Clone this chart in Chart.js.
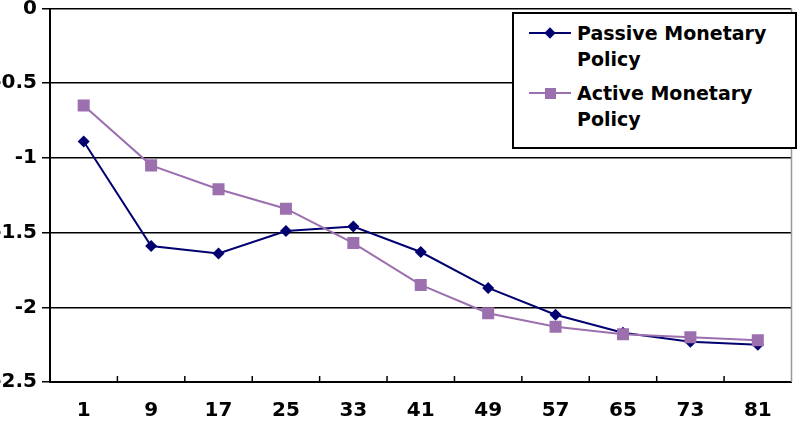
<!DOCTYPE html>
<html>
<head>
<meta charset="utf-8">
<script src="https://cdn.jsdelivr.net/npm/chart.js@4.4.1/dist/chart.umd.min.js"></script>
<style>
  html, body { margin: 0; padding: 0; background: #fff; }
  #wrap { position: relative; width: 800px; height: 434px; overflow: hidden; }
  #leyenda {
    position: absolute; left: 512px; top: 12px; width: 281px; height: 127px;
    border: 2px solid #000; background: #fff;
    font-family: "DejaVu Sans", sans-serif; font-weight: bold; font-size: 19px; color: #000;
    padding-top: 6px;
  }
  .item { position: relative; height: 52px; margin-bottom: 8px; }
  .muestra { position: absolute; left: 15px; top: 12px; width: 42px; height: 2px; }
  .marca { position: absolute; left: 50%; top: 50%; }
  .texto { position: absolute; left: 63px; top: 0; width: 215px; line-height: 26px; }
</style>
</head>
<body>
<div id="wrap">
  <canvas id="grafica" width="800" height="434"></canvas>
  <div id="leyenda"></div>
</div>
<script>
// Datos
const categorias = ['1', '9', '17', '25', '33', '41', '49', '57', '65', '73', '81'];
const pasiva = [-0.89, -1.59, -1.64, -1.49, -1.46, -1.63, -1.87, -2.05, -2.17, -2.23, -2.25];
const activa = [-0.65, -1.05, -1.21, -1.34, -1.57, -1.85, -2.04, -2.13, -2.18, -2.20, -2.22];
const nombres = ['Passive Monetary Policy', 'Active Monetary Policy'];

const colorPasiva = '#000070';
const colorActiva = '#9c6fae';
const fuente = { family: '"DejaVu Sans", sans-serif', weight: 'bold', size: 20 };

// Marcas pequeñas hacia dentro en el eje X y borde derecho gris
const marcasEje = {
    id: 'marcasEje',
    afterDraw(chart) {
        const { ctx, chartArea } = chart;
        const n = chart.data.labels.length;
        const paso = (chartArea.right - chartArea.left) / n;
        ctx.save();
        ctx.strokeStyle = '#000';
        ctx.lineWidth = 1.5;
        for (let i = 1; i < n; i++) {
            const x = chartArea.left + i * paso;
            ctx.beginPath();
            ctx.moveTo(x, chartArea.bottom);
            ctx.lineTo(x, chartArea.bottom - 6);
            ctx.stroke();
        }
        ctx.strokeStyle = '#999';
        ctx.beginPath();
        ctx.moveTo(chartArea.right, chartArea.top);
        ctx.lineTo(chartArea.right, chartArea.bottom);
        ctx.stroke();
        ctx.restore();
    }
};

const ctx = document.getElementById('grafica').getContext('2d');
const grafica = new Chart(ctx, {
    type: 'line',
    data: {
        labels: categorias,
        datasets: [{
            label: nombres[0],
            data: pasiva,
            borderColor: colorPasiva,
            backgroundColor: colorPasiva,
            borderWidth: 2,
            pointStyle: 'rectRot',
            pointRadius: 6,
            pointBorderWidth: 0,
            tension: 0,
            order: 1
        }, {
            label: nombres[1],
            data: activa,
            borderColor: colorActiva,
            backgroundColor: colorActiva,
            borderWidth: 2,
            pointStyle: 'rect',
            pointRadius: 8.5,
            pointBorderWidth: 0,
            tension: 0,
            order: 0
        }]
    },
    options: {
        responsive: false,
        animation: false,
        devicePixelRatio: 1,
        layout: { padding: { top: 6, right: 3, left: 0, bottom: 0 } },
        plugins: {
            legend: { display: false },
            tooltip: { enabled: false }
        },
        scales: {
            y: {
                min: -2.5,
                max: 0,
                afterFit(scale) {
                    scale.width = 50;
                    scale.paddingTop = 0;
                    scale.paddingBottom = 0;
                },
                ticks: {
                    stepSize: 0.5,
                    padding: 5,
                    color: '#000',
                    font: fuente,
                    callback: v => String(v)
                },
                grid: { color: '#000', lineWidth: 1.5, tickLength: 8 },
                border: { display: true, color: '#000', width: 2 }
            },
            x: {
                offset: true,
                afterFit(scale) {
                    scale.height = 52;
                    scale.paddingLeft = 0;
                    scale.paddingRight = 0;
                },
                ticks: { padding: 17, color: '#000', font: fuente, maxRotation: 0, autoSkip: false },
                grid: { display: false, offset: true, tickLength: 0 },
                border: { display: true, color: '#000', width: 2 }
            }
        }
    },
    plugins: [marcasEje]
});

// Leyenda en HTML a partir de los conjuntos de datos
const leyenda = document.getElementById('leyenda');
grafica.data.datasets.forEach(ds => {
    const item = document.createElement('div');
    item.className = 'item';
    const muestra = document.createElement('div');
    muestra.className = 'muestra';
    muestra.style.background = ds.borderColor;
    const marca = document.createElement('div');
    marca.className = 'marca';
    if (ds.pointStyle === 'rectRot') {
        marca.style.cssText += 'width:8px;height:8px;margin:-4px 0 0 -4px;transform:rotate(45deg);';
    } else {
        marca.style.cssText += 'width:11px;height:11px;margin:-5.5px 0 0 -5.5px;';
    }
    marca.style.background = ds.backgroundColor;
    muestra.appendChild(marca);
    const texto = document.createElement('div');
    texto.className = 'texto';
    texto.textContent = ds.label;
    item.appendChild(muestra);
    item.appendChild(texto);
    leyenda.appendChild(item);
});
</script>
</body>
</html>
